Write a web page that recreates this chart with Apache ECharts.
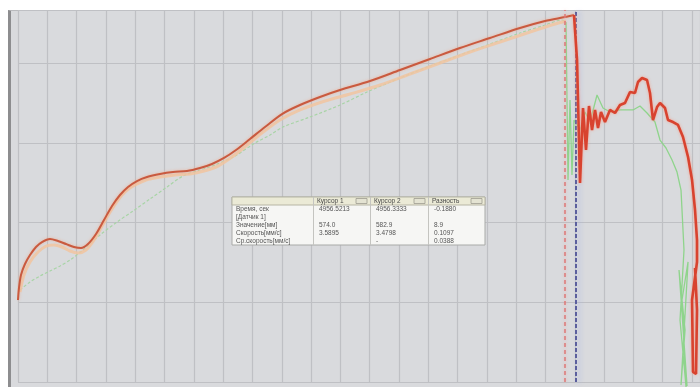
<!DOCTYPE html>
<html>
<head>
<meta charset="utf-8">
<title>Датчик 1</title>
<script src="https://cdn.jsdelivr.net/npm/echarts@6/dist/echarts.min.js"></script>
<style>
  html, body { margin: 0; padding: 0; background: #ffffff; }
  #frame {
    position: absolute; left: 8px; top: 10px; width: 689px; height: 376px;
    background: #d9dadd; border-left: 3px solid #8d8d8f; border-top: 1px solid #b9babd;
  }
  #chart { position: absolute; left: 0; top: 0; width: 700px; height: 387px; }
</style>
</head>
<body>
<div id="frame"></div>
<div id="chart"></div>
<script>
// Record start time (s); the time axis runs in seconds from this point.
const T0 = 4947.0;

// Sensor 1, main trace: rise up to the cursors [t, s], value
const redRise = [
  [0.000, 102.8], [0.017, 117.9], [0.051, 134.2], [0.119, 148.0], [0.205, 159.2],
  [0.307, 169.3], [0.409, 175.5], [0.546, 179.3], [0.682, 176.8], [0.819, 173.0],
  [0.955, 169.3], [1.075, 168.0], [1.194, 173.0], [1.331, 185.6], [1.467, 203.1],
  [1.604, 220.7], [1.740, 234.5], [1.877, 244.5], [2.030, 252.0], [2.201, 257.0],
  [2.423, 260.8], [2.645, 263.3], [2.883, 264.6], [3.105, 268.4], [3.310, 273.4],
  [3.515, 280.9], [3.720, 290.9], [3.958, 304.7], [4.214, 319.7], [4.504, 336.0],
  [4.811, 347.3], [5.152, 357.4], [5.494, 366.1], [6.006, 377.4], [6.518, 391.2],
  [7.029, 405.0], [7.541, 418.8], [8.053, 431.3], [8.565, 443.9], [8.992, 452.7],
  [9.333, 457.7], [9.486, 460.2]
];

// Sensor 1, main trace: break-down after the cursors
const redFall = [
  [9.486, 460.2], [9.538, 403.7], [9.589, 249.5], [9.640, 343.6], [9.691, 290.9],
  [9.742, 346.1], [9.794, 316.0], [9.845, 341.1], [9.896, 318.5], [9.947, 338.6],
  [10.015, 326.0], [10.100, 341.1], [10.186, 337.3], [10.271, 347.3], [10.356, 349.8],
  [10.442, 363.6], [10.527, 362.4], [10.578, 376.2], [10.647, 381.2], [10.732, 378.7],
  [10.783, 362.4], [10.834, 328.5], [10.903, 344.8], [10.954, 349.8], [11.039, 343.6],
  [11.090, 328.5], [11.176, 326.0], [11.261, 322.3], [11.346, 307.2], [11.432, 282.1],
  [11.500, 253.3], [11.551, 215.7], [11.585, 178.1], [11.585, 150.5], [11.500, 102.8],
  [11.517, 12.5], [11.568, 10.0], [11.585, 90.3], [11.551, 142.9]
];

// Sensor 1, filtered trace
const orangeTrace = [
  [0.034, 112.9], [0.102, 134.2], [0.205, 150.5], [0.341, 163.0], [0.478, 170.5],
  [0.614, 171.8], [0.751, 169.3], [0.887, 164.3], [1.024, 161.8], [1.160, 165.5],
  [1.297, 178.1], [1.433, 195.6], [1.570, 213.2], [1.706, 228.2], [1.843, 239.5],
  [1.996, 247.0], [2.184, 253.3], [2.423, 257.0], [2.679, 259.6], [2.935, 260.8],
  [3.174, 264.6], [3.412, 270.8], [3.651, 282.1], [3.890, 295.9], [4.163, 312.2],
  [4.470, 328.5], [4.811, 341.1], [5.238, 352.3], [5.665, 361.1], [6.177, 372.4],
  [6.688, 386.2], [7.200, 400.0], [7.712, 413.8], [8.224, 426.3], [8.736, 438.9],
  [9.162, 448.9], [9.350, 452.7]
];

// Sensor 2 trace, before the cursors
const greenRise = [
  [0.034, 115.4], [0.205, 125.4], [0.375, 132.9], [0.546, 139.2], [0.717, 145.5],
  [0.887, 153.0], [1.109, 165.5], [1.399, 184.3], [1.689, 200.6], [1.962, 214.4],
  [2.252, 229.5], [2.542, 244.5], [2.815, 258.3], [3.105, 265.8], [3.361, 272.1],
  [3.702, 283.4], [4.044, 299.7], [4.300, 309.7], [4.521, 319.7], [4.982, 332.3],
  [5.494, 347.3], [5.955, 363.6], [6.518, 381.2], [7.029, 396.2], [7.541, 410.0],
  [8.053, 423.8], [8.565, 437.6], [8.992, 447.6], [9.282, 453.9], [9.350, 451.4]
];

// Sensor 2 trace, after the cursors
const greenFall = [
  [9.350, 451.4], [9.384, 253.3], [9.418, 353.6], [9.452, 259.6], [9.486, 328.5],
  [9.589, 316.0], [9.674, 338.6], [9.760, 326.0], [9.879, 359.9], [9.981, 343.6],
  [10.100, 338.6], [10.271, 341.1], [10.493, 341.1], [10.612, 346.1], [10.732, 337.3],
  [10.868, 326.0], [10.954, 303.4], [11.056, 293.4], [11.159, 278.4], [11.244, 263.3],
  [11.312, 240.7], [11.363, 165.5], [11.295, 77.7], [11.398, -6.3], [11.329, 102.8],
  [11.432, 150.5], [11.312, -3.8], [11.381, 65.2], [11.278, 140.4], [11.415, -5.0]
];

// Cursor readout
const cursorTimes = [4956.5213, 4956.3333];   // Курсор 1, Курсор 2
const tableHeader = ['', 'Курсор 1', 'Курсор 2', 'Разность'];
const tableLabels = ['Время, сек', '[Датчик 1]', 'Значение[мм]', 'Скорость[мм/с]', 'Ср.скорость[мм/с]'];
const cursor1Col = ['4956.5213', '', '574.0', '3.5895', ''];
const cursor2Col = ['4956.3333', '', '582.9', '3.4798', '-'];
const diffCol = ['-0.1880', '', '8.9', '0.1097', '0.0388'];

const chart = echarts.init(document.getElementById('chart'), null, { renderer: 'canvas' });

// Readout table drawn as graphic elements, kept above the plot
const TZ = 100;
const tx = 232, ty = 197, rowH = 8;
const colW = [81, 57, 58, 57];
const colX = [tx, tx + colW[0], tx + colW[0] + colW[1], tx + colW[0] + colW[1] + colW[2]];
const tableW = colW.reduce((a, b) => a + b, 0);
const font = '6.5px "Liberation Sans", Arial, sans-serif';
const tableEls = [];
tableEls.push({ type: 'rect', z: TZ, shape: { x: tx, y: ty, width: tableW, height: rowH * 6 },
  style: { fill: '#f6f6f4', stroke: '#a9aaa8', lineWidth: 1 } });
tableEls.push({ type: 'rect', z: TZ + 1, shape: { x: tx, y: ty, width: tableW, height: rowH },
  style: { fill: '#ebead6', stroke: '#b6b5a4', lineWidth: 1 } });
for (let c = 0; c < 4; c++) {
  if (c > 0) {
    tableEls.push({ type: 'line', z: TZ + 2, shape: { x1: colX[c] + 0.5, y1: ty, x2: colX[c] + 0.5, y2: ty + rowH * 6 },
      style: { stroke: '#c4c4c0', lineWidth: 1 } });
    tableEls.push({ type: 'rect', z: TZ + 2, shape: { x: colX[c] + colW[c] - 14, y: ty + 1.5, width: 11, height: 5 },
      style: { fill: '#e4e3d2', stroke: '#9d9c90', lineWidth: 0.8 } });
  }
  tableEls.push({ type: 'text', z: TZ + 3, x: colX[c] + 4, y: ty + 1,
    style: { text: tableHeader[c], font: font, fill: '#4a4a4a' } });
}
const cols = [tableLabels, cursor1Col, cursor2Col, diffCol];
for (let r = 0; r < tableLabels.length; r++) {
  for (let c = 0; c < 4; c++) {
    tableEls.push({ type: 'text', z: TZ + 3, x: colX[c] + (c === 0 ? 4 : 6), y: ty + rowH * (r + 1) + 1,
      style: { text: cols[c][r], font: font, fill: '#555555' } });
  }
}

const gridColor = '#bfc0c4';

chart.setOption({
  animation: false,
  backgroundColor: 'transparent',
  grid: { left: 18, right: 0, top: 10, bottom: 5, show: false },
  xAxis: {
    type: 'value', min: 0, max: 11.636, interval: 0.5,
    axisLine: { show: false }, axisTick: { show: false }, axisLabel: { show: false },
    splitLine: { show: true, lineStyle: { color: gridColor, width: 1.2 } }
  },
  yAxis: {
    type: 'value', min: 0, max: 466.46, interval: 100,
    axisLine: { show: false }, axisTick: { show: false }, axisLabel: { show: false },
    splitLine: { show: true, lineStyle: { color: gridColor, width: 1.2 } }
  },
  graphic: { elements: [{ type: 'group', z: TZ, children: tableEls }] },
  series: [
    {
      name: 'Датчик 2', type: 'line', data: greenRise, smooth: 0.3, showSymbol: false, clip: false,
      lineStyle: { color: '#a8d4a6', width: 1.2, type: [3, 2] }, z: 2
    },
    {
      name: 'Датчик 2', type: 'line', data: greenFall, showSymbol: false, clip: false,
      lineStyle: { color: '#8fd48c', width: 1.3 }, z: 2
    },
    {
      name: 'Датчик 1 (фильтр)', type: 'line', data: orangeTrace, smooth: 0.3, showSymbol: false, clip: false,
      lineStyle: { color: '#f1c4a0', width: 3, opacity: 0.85 }, z: 3
    },
    {
      name: 'Датчик 1', type: 'line', data: redRise, smooth: 0.3, showSymbol: false, clip: false,
      lineStyle: { color: '#c95a3f', width: 2, shadowColor: 'rgba(240,170,140,0.8)', shadowBlur: 3 }, z: 4,
      markLine: {
        silent: true, symbol: ['none', 'none'], label: { show: false },
        data: [
          { xAxis: cursorTimes[1] - T0,
            lineStyle: { color: '#dd7a78', width: 1.5, type: [4, 3], shadowColor: 'rgba(240,160,160,0.7)', shadowBlur: 3 } },
          { xAxis: cursorTimes[0] - T0,
            lineStyle: { color: '#5b5f9e', width: 2, type: [4, 2], shadowColor: 'rgba(160,175,230,0.8)', shadowBlur: 5, shadowOffsetX: 3 } }
        ]
      }
    },
    {
      name: 'Датчик 1', type: 'line', data: redFall, showSymbol: false, clip: false,
      lineStyle: { color: '#d8432f', width: 2.6, shadowColor: 'rgba(245,160,140,0.9)', shadowBlur: 3 }, z: 5
    }
  ]
});
</script>
</body>
</html>
